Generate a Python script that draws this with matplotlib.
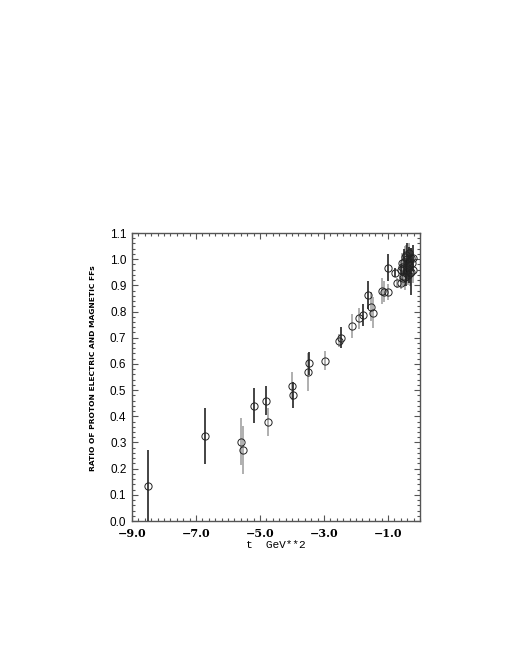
import numpy as np
import matplotlib
matplotlib.use("Agg")
import matplotlib.pyplot as plt
from matplotlib.ticker import MultipleLocator

# points with black error bars
t_blk = [-8.49, -6.71, -5.18, -4.81, -3.98, -3.47, -2.48, -1.77, -1.62, -1.00, -0.79,
         -0.60, -0.50, -0.45, -0.40, -0.33, -0.27, -0.23]
r_blk = [0.135, 0.325, 0.440, 0.460, 0.480, 0.602, 0.700, 0.787, 0.863, 0.968, 0.949,
         0.959, 0.990, 0.946, 1.000, 0.978, 0.952, 1.005]
e_blk = [0.135, 0.107, 0.067, 0.055, 0.050, 0.045, 0.040, 0.043, 0.052, 0.053, 0.016,
         0.020, 0.050, 0.050, 0.060, 0.070, 0.090, 0.050]

# points with grey error bars
t_gry = [-5.60, -5.54, -4.75, -4.00, -3.51, -2.98, -2.52, -2.13, -1.90, -1.54, -1.48,
         -1.20, -1.13, -1.01, -0.71, -0.60, -0.57, -0.55, -0.53, -0.52, -0.48, -0.46,
         -0.43, -0.42, -0.38, -0.37, -0.35, -0.31, -0.29, -0.25, -0.21]
r_gry = [0.303, 0.271, 0.379, 0.517, 0.568, 0.612, 0.689, 0.745, 0.774, 0.819, 0.796,
         0.880, 0.876, 0.876, 0.910, 0.908, 0.984, 0.971, 0.927, 0.936, 1.010, 0.931,
         1.016, 0.959, 0.990, 0.940, 1.022, 0.946, 1.003, 0.984, 0.959]
e_gry = [0.090, 0.090, 0.053, 0.054, 0.073, 0.036, 0.025, 0.045, 0.040, 0.057, 0.060,
         0.050, 0.040, 0.030, 0.020, 0.020, 0.040, 0.030, 0.030, 0.040, 0.040, 0.050,
         0.040, 0.050, 0.040, 0.040, 0.040, 0.050, 0.040, 0.040, 0.050]

fig = plt.figure(figsize=(5.1, 6.6), dpi=100)
ax = fig.add_axes([132/510, 1 - 521/660, 288/510, 288/660])

ax.errorbar(t_gry, r_gry, yerr=e_gry, fmt='none', ecolor='#9a9a9a', elinewidth=1.1, zorder=2)
ax.errorbar(t_blk, r_blk, yerr=e_blk, fmt='none', ecolor='#111111', elinewidth=1.1, zorder=3)
ax.plot(t_gry + t_blk, r_gry + r_blk, 'o', ms=5.2, mfc='none', mec='#222222', mew=0.7, zorder=4)

ax.set_xlim(-9, 0)
ax.set_ylim(0, 1.1)
ax.xaxis.set_minor_locator(MultipleLocator(0.2))
ax.yaxis.set_minor_locator(MultipleLocator(0.02))
ax.set_xticks([-9, -7, -5, -3, -1])
ax.set_xticklabels(['\u22129.0', '\u22127.0', '\u22125.0', '\u22123.0', '\u22121.0'],
                   family='DejaVu Serif', fontsize=8, fontweight='bold')
ax.set_yticks(np.arange(0, 1.11, 0.1))
ax.set_yticklabels(['%.1f' % v for v in np.arange(0, 1.11, 0.1)], family='Liberation Sans', fontsize=8.5)

ax.tick_params(which='both', direction='in', top=True, right=True, color='#555555')
ax.tick_params(which='major', length=4, width=0.8, pad=4)
ax.tick_params(axis='x', which='major', pad=5)
ax.tick_params(which='minor', length=2.2, width=0.8)
for s in ax.spines.values():
    s.set_color('#555555')
    s.set_linewidth(1.0)

ax.set_xlabel('t  GeV**2', family='Liberation Mono', fontsize=8, labelpad=1)
fig.text(93/510, 1 - 368/660, 'RATIO OF PROTON ELECTRIC AND MAGNETIC FFs', rotation=90,
         ha='center', va='center', family='DejaVu Sans Condensed', fontsize=5.4, fontweight='bold')

fig.savefig('out.png', dpi=100)
